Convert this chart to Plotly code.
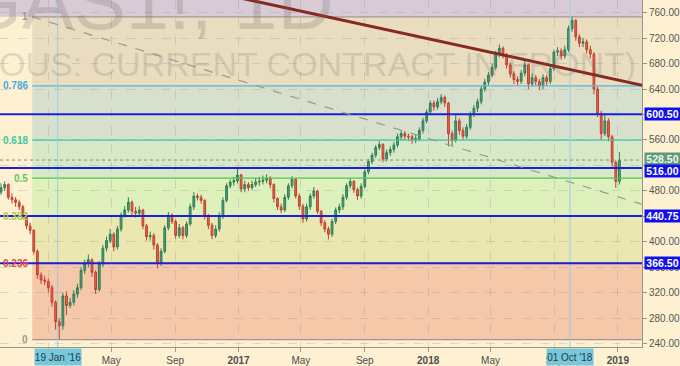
import plotly.graph_objects as go
import pandas as pd

# ---------------- data (weekly bars) ----------------
first_open = 478
closes = [485, 490, 470, 466, 462, 455, 440, 425, 418, 385,
          348, 340, 338, 328, 305, 275, 268, 315, 300, 305,
          318, 328, 355, 366, 372, 352, 325, 365, 390, 402,
          412, 392, 420, 442, 450, 462, 448, 445, 450, 425,
          408, 410, 395, 368, 385, 422, 442, 432, 410, 422,
          410, 428, 455, 472, 470, 465, 440, 426, 410, 420,
          440, 465, 488, 494, 496, 505, 483, 490, 485, 490,
          494, 495, 497, 500, 490, 468, 455, 450, 470, 488,
          498, 472, 456, 436, 455, 472, 480, 448, 430, 420,
          412, 432, 450, 455, 470, 488, 495, 482, 472, 487,
          510, 526, 536, 548, 553, 530, 540, 545, 552, 565,
          570, 566, 565, 560, 562, 575, 590, 604, 618, 612,
          620, 627, 618, 570, 560, 590, 575, 566, 580, 600,
          610, 620, 640, 651, 662, 674, 695, 704, 694, 678,
          664, 655, 652, 665, 678, 648, 658, 652, 645, 658,
          652, 672, 698, 700, 692, 702, 735, 748, 722, 712,
          714, 702, 695, 640, 602, 570, 590, 565, 525, 495,
          528.5]
highs = [492, 495, 492, 476, 470, 466, 458, 444, 430, 420,
         388, 352, 346, 342, 332, 308, 280, 320, 322, 312,
         324, 334, 360, 372, 380, 374, 355, 370, 395, 408,
         420, 415, 425, 446, 456, 470, 465, 455, 456, 452,
         428, 416, 414, 398, 390, 426, 447, 445, 435, 428,
         425, 432, 460, 478, 476, 474, 467, 444, 430, 426,
         446, 470, 492, 498, 502, 516, 507, 496, 494, 496,
         500, 502, 504, 506, 503, 492, 470, 460, 475, 492,
         503, 500, 476, 460, 460, 476, 486, 482, 450, 434,
         424, 436, 454, 460, 475, 492, 500, 497, 485, 492,
         514, 530, 540, 552, 558, 555, 545, 550, 557, 570,
         575, 574, 570, 568, 568, 580, 595, 608, 622, 622,
         626, 632, 630, 620, 575, 600, 594, 580, 585, 605,
         615, 625, 645, 656, 667, 680, 700, 710, 707, 697,
         682, 668, 660, 670, 684, 680, 664, 662, 656, 663,
         662, 676, 702, 706, 704, 708, 740, 755, 750, 726,
         720, 718, 708, 698, 644, 606, 600, 594, 568, 528,
         541]
lows = [474, 480, 466, 460, 455, 450, 436, 420, 412, 380,
        342, 334, 332, 320, 298, 262, 247, 262, 285, 296,
        300, 312, 324, 350, 360, 345, 318, 322, 360, 385,
        398, 385, 388, 416, 438, 446, 440, 438, 440, 420,
        402, 402, 388, 358, 362, 382, 418, 428, 405, 406,
        404, 406, 425, 450, 465, 460, 435, 420, 404, 406,
        416, 436, 462, 484, 488, 492, 478, 478, 480, 482,
        486, 488, 490, 492, 484, 462, 450, 445, 447, 466,
        484, 468, 450, 430, 432, 450, 468, 444, 425, 415,
        404, 408, 428, 445, 450, 466, 484, 477, 466, 468,
        484, 506, 522, 532, 544, 525, 526, 535, 540, 548,
        560, 560, 558, 554, 555, 558, 570, 586, 600, 606,
        608, 616, 612, 550, 552, 556, 568, 560, 562, 576,
        596, 604, 616, 636, 646, 658, 670, 690, 688, 672,
        658, 648, 646, 648, 660, 640, 644, 646, 638, 640,
        646, 648, 668, 692, 686, 688, 698, 730, 716, 706,
        706, 696, 688, 632, 596, 560, 566, 558, 518, 485,
        490]
opens = [first_open] + closes[:-1]
dates = pd.date_range("2015-10-02", periods=len(closes), freq="7D")

# Fibonacci retracement
fib_low, fib_high = 246.5, 753.5
fib_ratios = [0, 0.236, 0.382, 0.5, 0.618, 0.786, 1]
fib_labels = ["0", "0.236", "0.382", "0.5", "0.618", "0.786", "1"]
fib_line_colors = ["#a39494", "#e5484d", "#a5c93a", "#4fc84f", "#3cc9a4", "#5ab4d8", "#a39494"]
fib_text_colors = ["#a39494", "#e5484d", "#b2c944", "#5fc85f", "#3cc9a4", "#4aa9d6", "#a39494"]
zone_colors = ["#f4c8a9", "#eae8b0", "#def0bc", "#d7eac8", "#d7e0cc", "#e9dcbf"]
above_color = "#d8cbd5"
fib_start = "2015-12-01"

hlines = [600.5, 516.0, 440.75, 366.5]
hline_labels = ["600.50", "516.00", "440.75", "366.50"]
hline_label_shift = [0, -3, 0, 0]
last_price = 528.5
last_label = "528.50"
cursor_dates = ["2016-01-19", "2018-10-01"]
cursor_labels = ["19 Jan '16", "01 Oct '18"]
trend_dates = ["2016-12-01", "2019-02-20"]
trend_prices = [789.2, 645.5]
diag_dates = ["2015-12-01", "2019-02-17"]
diag_prices = [753.5, 459.0]

x_range = ["2015-09-30", "2019-02-16 12:00"]
y_range = [234.8, 779.9]
y_ticks = list(range(240, 761, 40))
x_tickvals = ["2016-01-01", "2016-05-01", "2016-09-01", "2017-01-01", "2017-05-01",
              "2017-09-01", "2018-01-01", "2018-05-01", "2018-09-01", "2019-01-01"]
x_ticktext = ["<b>2016</b>", "May", "Sep", "<b>2017</b>", "May", "Sep", "<b>2018</b>", "May", "Sep", "<b>2019</b>"]

# ---------------- figure ----------------
fig = go.Figure()
fig.add_trace(go.Candlestick(
    x=dates, open=opens, high=highs, low=lows, close=closes,
    increasing=dict(line=dict(color="#2f7d58", width=1), fillcolor="#4f9f74"),
    decreasing=dict(line=dict(color="#c2412f", width=1), fillcolor="#e0654f"),
    whiskerwidth=0, hoverinfo="skip", showlegend=False))

shapes = []
levels = [fib_low + r * (fib_high - fib_low) for r in fib_ratios]
shapes.append(dict(type="rect", xref="paper", yref="y", x0=0, x1=1, y0=levels[-1], y1=y_range[1],
                   fillcolor=above_color, line=dict(width=0), layer="below"))
for i in range(len(levels) - 1):
    shapes.append(dict(type="rect", xref="x", yref="y", x0=fib_start, x1=x_range[1],
                       y0=levels[i], y1=levels[i + 1], fillcolor=zone_colors[i],
                       line=dict(width=0), layer="below"))
for lv, c in zip(levels, fib_line_colors):
    shapes.append(dict(type="line", xref="x", yref="y", x0=fib_start, x1=x_range[1], y0=lv, y1=lv,
                       line=dict(color=c, width=1.2), layer="above"))
for d in cursor_dates:
    shapes.append(dict(type="line", xref="x", yref="paper", x0=d, x1=d, y0=0, y1=1,
                       line=dict(color="#93d1e3", width=1), layer="above"))
shapes.append(dict(type="line", xref="paper", yref="y", x0=0, x1=1, y0=last_price, y1=last_price,
                   line=dict(color="#8a8a7a", width=1, dash="dot"), layer="above"))
for h in hlines:
    shapes.append(dict(type="line", xref="paper", yref="y", x0=0, x1=1, y0=h, y1=h,
                       line=dict(color="#1b1fd8", width=2), layer="above"))
shapes.append(dict(type="line", xref="x", yref="y", x0=diag_dates[0], x1=diag_dates[1],
                   y0=diag_prices[0], y1=diag_prices[1],
                   line=dict(color="#9a9a90", width=1.2, dash="dash"), layer="above"))
shapes.append(dict(type="line", xref="x", yref="y", x0=trend_dates[0], x1=trend_dates[1],
                   y0=trend_prices[0], y1=trend_prices[1],
                   line=dict(color="#852a1e", width=3), layer="above"))

annotations = []
# watermark
annotations.append(dict(text="GAS1!, 1D", xref="paper", yref="paper", x=336 / 642, y=1 - 32 / 347.3,
                        xanchor="right", yanchor="bottom", yshift=-16, showarrow=False,
                        font=dict(size=78, color="rgba(110,100,100,0.22)", family="Liberation Sans")))
annotations.append(dict(text="GASOIL (CONTINUOUS: CURRENT CONTRACT IN FRONT)", xref="paper", yref="paper",
                        x=638 / 642, y=1 - 64 / 347.3, xanchor="right", yanchor="middle", showarrow=False,
                        font=dict(size=34, color="rgba(110,100,100,0.2)", family="Liberation Sans")))
for lv, lab, c in zip(levels, fib_labels, fib_text_colors):
    annotations.append(dict(text="<b>" + lab + "</b>", xref="x", yref="y", x=fib_start, y=lv,
                            xanchor="right", yanchor="middle", xshift=-2, showarrow=False,
                            font=dict(size=10, color=c, family="Liberation Sans")))
annotations.append(dict(text="<b>" + last_label + "</b>", xref="paper", yref="y", x=1, y=last_price,
                        xanchor="left", yanchor="middle", xshift=2, yshift=1, showarrow=False,
                        bgcolor="#5f9a78", width=35, height=12, borderpad=0,
                        font=dict(size=10.5, color="#f4f4f4", family="Liberation Sans")))
for h, lab, sh in zip(hlines, hline_labels, hline_label_shift):
    annotations.append(dict(text="<b>" + lab + "</b>", xref="paper", yref="y", x=1, y=h,
                            xanchor="left", yanchor="middle", xshift=2, yshift=sh, showarrow=False,
                            bgcolor="#1010ee", width=35, height=12, borderpad=0,
                            font=dict(size=10.5, color="white", family="Liberation Sans")))
for d, lab in zip(cursor_dates, cursor_labels):
    annotations.append(dict(text=lab, xref="x", yref="paper", x=d, y=0,
                            xanchor="center", yanchor="top", yshift=-1, showarrow=False,
                            bgcolor="#79c7da", width=46, height=16, borderpad=0,
                            font=dict(size=10, color="#1e3f4c", family="Liberation Sans")))

fig.update_layout(
    width=680, height=366,
    margin=dict(l=0, r=38, t=0, b=19),
    paper_bgcolor="#fdf1d2", plot_bgcolor="#fdf1d2",
    shapes=shapes, annotations=annotations,
    showlegend=False,
    xaxis=dict(range=x_range, rangeslider=dict(visible=False), type="date",
               tickvals=x_tickvals, ticktext=x_ticktext,
               showgrid=True, gridcolor="rgba(140,140,150,0.28)", griddash="dash", gridwidth=1,
               showline=True, linecolor="#9a948a", ticks="outside", ticklen=4, tickcolor="#9a948a",
               tickfont=dict(size=10, color="#4e4e4e", family="Liberation Sans"), zeroline=False),
    yaxis=dict(range=y_range, side="right", tickvals=y_ticks, tickformat=".2f",
               showgrid=True, gridcolor="rgba(140,140,150,0.28)", griddash="dash", gridwidth=1,
               showline=True, linecolor="#9a948a", ticks="outside", ticklen=4, tickcolor="#9a948a",
               tickfont=dict(size=10, color="#555555", family="Liberation Sans"), zeroline=False),
)

fig.write_html("out.html", config={"displayModeBar": False},
               post_script="document.body.style.margin='0px';document.body.style.overflow='hidden';")
